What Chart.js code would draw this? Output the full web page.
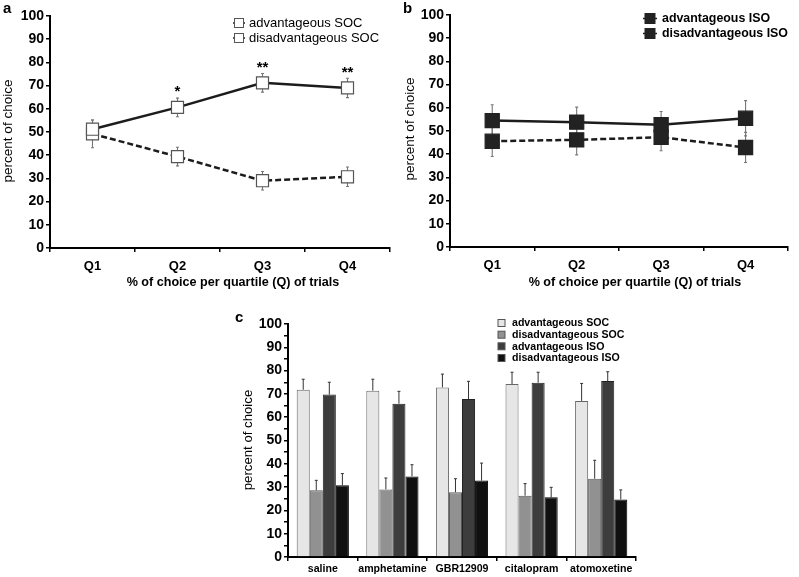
<!DOCTYPE html>
<html><head><meta charset="utf-8">
<script src="https://cdn.jsdelivr.net/npm/chart.js@4.4.1/dist/chart.umd.min.js"></script>
<style>
html,body{margin:0;padding:0;background:#fff;}
#wrap{position:relative;width:799px;height:577px;overflow:hidden;background:#fff;}
.box{position:absolute;}
canvas{display:block;}
</style></head><body>
<div id="wrap">
<div class="box" style="left:0;top:0;"><canvas id="ca" width="400" height="300"></canvas></div>
<div class="box" style="left:400px;top:0;"><canvas id="cb" width="399" height="300"></canvas></div>
<div class="box" style="left:200px;top:300px;"><canvas id="cc" width="440" height="277"></canvas></div>
</div>
<script>
// ---------- data ----------
const quartiles = ['Q1', 'Q2', 'Q3', 'Q4'];
const advSOC = [51.2, 60.6, 71.2, 69.0];
const advSOCErr = [4.0, 4.0, 4.0, 4.2];
const disSOC = [49.2, 39.4, 29.0, 30.7];
const disSOCErr = [6.0, 4.0, 4.0, 4.2];
const sigMarks = ['', '*', '**', '**'];

const advISO = [54.5, 53.8, 52.7, 55.5];
const advISOErr = [6.8, 6.5, 5.7, 7.6];
const disISO = [45.6, 46.2, 47.3, 42.9];
const disISOErr = [6.6, 6.5, 5.8, 6.5];

const drugs = ['saline', 'amphetamine', 'GBR12909', 'citalopram', 'atomoxetine'];
const cAdvSOC = [71.8, 71.4, 72.8, 74.2, 67.0];
const cAdvSOCErr = [4.5, 4.9, 5.7, 5.1, 7.5];
const cDisSOC = [28.6, 29.0, 27.8, 26.3, 33.6];
const cDisSOCErr = [4.3, 4.9, 5.8, 5.2, 7.9];
const cAdvISO = [69.7, 65.8, 67.8, 74.8, 75.5];
const cAdvISOErr = [5.3, 5.3, 7.6, 4.5, 4.0];
const cDisISO = [30.8, 34.6, 32.8, 25.6, 24.7];
const cDisISOErr = [5.0, 5.0, 7.5, 4.3, 4.1];

const yAxisTitle = 'percent of choice';
const xAxisTitle = '% of choice per quartile (Q) of trials';

// ---------- helpers ----------
const FAM = "'Liberation Sans', Arial, Helvetica, sans-serif";
Chart.defaults.font.family = FAM;
Chart.defaults.color = '#000';

const ANN = {
  ca: {
    texts: [
      {t: 'a', x: 3, y: 13, font: 'bold 15px ' + FAM},
      {t: yAxisTitle, x: 8, y: 131, font: '13.5px ' + FAM, rot: true},
      {t: xAxisTitle, x: 233, y: 283, font: 'bold 12.6px ' + FAM, align: 'center', base: 'middle'}
    ],
    legend: {kind: 'line', x: 239, half: 6, tx: 249, rows: [23, 38], font: '13px ' + FAM},
    stars: true
  },
  cb: {
    texts: [
      {t: 'b', x: 3, y: 13, font: 'bold 15px ' + FAM},
      {t: yAxisTitle, x: 10, y: 129, font: '13.5px ' + FAM, rot: true},
      {t: xAxisTitle, x: 235, y: 283, font: 'bold 12.6px ' + FAM, align: 'center', base: 'middle'}
    ],
    legend: {kind: 'line', x: 250, half: 7, tx: 262, rows: [18.5, 33.5], font: 'bold 12.4px ' + FAM}
  },
  cc: {
    texts: [
      {t: 'c', x: 35, y: 22, font: 'bold 15px ' + FAM},
      {t: yAxisTitle, x: 48, y: 140, font: '13.2px ' + FAM, rot: true}
    ],
    legend: {kind: 'box', x: 301.5, tx: 312, rows: [23, 34.7, 46.3, 58], font: 'bold 10.6px ' + FAM}
  }
};

const annot = {
  id: 'annot',
  beforeDatasetsDraw(chart) {
    const ctx = chart.ctx;
    const ys = chart.scales.y;
    chart.data.datasets.forEach((ds, di) => {
      if (!ds.errors) return;
      const meta = chart.getDatasetMeta(di);
      ctx.save();
      ctx.strokeStyle = ds.errColor || '#666';
      ctx.lineWidth = ds.errWidth || 1;
      meta.data.forEach((el, i) => {
        const v = ds.data[i], e = ds.errors[i];
        const x = el.x;
        const yTop = ys.getPixelForValue(v + e);
        const yBot = ds.errUpOnly ? ys.getPixelForValue(v) : ys.getPixelForValue(v - e);
        ctx.beginPath();
        ctx.moveTo(x, yTop); ctx.lineTo(x, yBot);
        ctx.moveTo(x - 1.5, yTop); ctx.lineTo(x + 1.5, yTop);
        if (!ds.errUpOnly) { ctx.moveTo(x - 1.5, yBot); ctx.lineTo(x + 1.5, yBot); }
        ctx.stroke();
      });
      ctx.restore();
    });
  },
  afterDraw(chart) {
    const cfg = ANN[chart.canvas.id];
    if (!cfg) return;
    const ctx = chart.ctx;
    ctx.save();
    ctx.fillStyle = '#000';
    cfg.texts.forEach(o => {
      ctx.save();
      ctx.font = o.font;
      if (o.rot) {
        ctx.translate(o.x, o.y);
        ctx.rotate(-Math.PI / 2);
        ctx.textAlign = 'center'; ctx.textBaseline = 'middle';
        ctx.fillText(o.t, 0, 0);
      } else {
        ctx.textAlign = o.align || 'left';
        ctx.textBaseline = o.base || 'alphabetic';
        ctx.fillText(o.t, o.x, o.y);
      }
      ctx.restore();
    });
    // legend
    const lg = cfg.legend;
    chart.data.datasets.forEach((ds, di) => {
      const y = lg.rows[di];
      ctx.save();
      if (lg.kind === 'line') {
        ctx.strokeStyle = ds.borderColor; ctx.lineWidth = 1.5;
        ctx.beginPath(); ctx.moveTo(lg.x - lg.half, y); ctx.lineTo(lg.x + lg.half, y); ctx.stroke();
        const s = ds.legendSize;
        ctx.fillStyle = ds.pointBackgroundColor; ctx.strokeStyle = ds.pointBorderColor; ctx.lineWidth = 1;
        ctx.fillRect(lg.x - s / 2, y - s / 2, s, s);
        ctx.strokeRect(lg.x - s / 2, y - s / 2, s, s);
      } else {
        ctx.fillStyle = ds.backgroundColor; ctx.strokeStyle = '#555'; ctx.lineWidth = 1;
        ctx.fillRect(lg.x - 3.5, y - 3.5, 7, 7);
        ctx.strokeRect(lg.x - 3.5, y - 3.5, 7, 7);
      }
      ctx.fillStyle = '#000';
      ctx.font = lg.font; ctx.textAlign = 'left'; ctx.textBaseline = 'middle';
      ctx.fillText(ds.label, lg.tx, y + 0.5);
      ctx.restore();
    });
    // significance stars
    if (cfg.stars) {
      const meta = chart.getDatasetMeta(0);
      const ys = chart.scales.y;
      ctx.font = 'bold 15px ' + FAM; ctx.textAlign = 'center'; ctx.textBaseline = 'alphabetic';
      sigMarks.forEach((m, i) => {
        if (!m) return;
        const yc = ys.getPixelForValue(advSOC[i] + advSOCErr[i] + 4.4);
        ctx.fillText(m, meta.data[i].x, yc + 0.57 * 15);
      });
    }
    ctx.restore();
  }
};

function yScale(width, step, labelEvery, fontSize) {
  return {
    min: 0, max: 100,
    ticks: {
      stepSize: step, autoSkip: false, padding: 2, color: '#000',
      font: {size: fontSize, weight: 'bold'},
      callback: v => (v % labelEvery === 0 ? String(v) : '')
    },
    grid: {drawOnChartArea: false, drawTicks: true, tickLength: 4, color: '#000', lineWidth: 1.5},
    border: {display: true, color: '#000', width: 2},
    afterFit: s => { s.width = width; }
  };
}
function xScale(height, fontSize, pad) {
  return {
    offset: true,
    ticks: {color: '#000', font: {size: fontSize, weight: 'bold'}, padding: pad, maxRotation: 0, autoSkip: false},
    grid: {offset: true, drawOnChartArea: false, drawTicks: true, tickLength: 4, color: '#000', lineWidth: 1.5},
    border: {display: true, color: '#000', width: 2},
    afterFit: s => { s.height = height; }
  };
}

function lineDs(label, data, errs, dashed, filled, r) {
  return {
    label, data, errors: errs,
    borderColor: '#1c1c1c', borderWidth: 2.5, borderDash: dashed ? [6, 3] : [],
    pointStyle: 'rect', pointRadius: r, pointHoverRadius: r,
    pointBackgroundColor: filled ? '#222' : '#fff',
    pointBorderColor: filled ? '#222' : '#555', pointBorderWidth: 1.2,
    legendSize: filled ? 10 : 9,
    errColor: '#777', errWidth: 1.1,
    fill: false, tension: 0
  };
}

const common = {
  responsive: false, animation: false, devicePixelRatio: 1,
  plugins: {legend: {display: false}, tooltip: {enabled: false}}
};

new Chart(document.getElementById('ca'), {
  type: 'line',
  data: {labels: quartiles, datasets: [
    lineDs('advantageous SOC', advSOC, advSOCErr, false, false, 8.5),
    lineDs('disadvantageous SOC', disSOC, disSOCErr, true, false, 8.5)
  ]},
  options: Object.assign({}, common, {
    layout: {padding: {top: 16, right: 10, bottom: 0, left: 0}},
    scales: {x: xScale(52, 13, 7), y: yScale(50, 10, 10, 14)}
  }),
  plugins: [annot]
});

new Chart(document.getElementById('cb'), {
  type: 'line',
  data: {labels: quartiles, datasets: [
    lineDs('advantageous ISO', advISO, advISOErr, false, true, 10),
    lineDs('disadvantageous ISO', disISO, disISOErr, true, true, 10)
  ]},
  options: Object.assign({}, common, {
    layout: {padding: {top: 15, right: 1, bottom: 0, left: 0}},
    scales: {x: xScale(53, 13, 7), y: yScale(50, 10, 10, 14)}
  }),
  plugins: [annot]
});

function barDs(label, data, errs, fill, border) {
  return {
    label, data, errors: errs, errUpOnly: true,
    backgroundColor: fill, borderColor: border, borderWidth: 1,
    errColor: '#333', errWidth: 1,
    categoryPercentage: 0.75, barPercentage: 1.0
  };
}

new Chart(document.getElementById('cc'), {
  type: 'bar',
  data: {labels: drugs, datasets: [
    barDs('advantageous SOC', cAdvSOC, cAdvSOCErr, '#e6e6e6', '#666'),
    barDs('disadvantageous SOC', cDisSOC, cDisSOCErr, '#919191', '#555'),
    barDs('advantageous ISO', cAdvISO, cAdvISOErr, '#3d3d3d', '#222'),
    barDs('disadvantageous ISO', cDisISO, cDisISOErr, '#101010', '#000')
  ]},
  options: Object.assign({}, common, {
    layout: {padding: {top: 24, right: 4, bottom: 0, left: 0}},
    scales: {x: xScale(20, 10.6, 2), y: yScale(88, 5, 10, 14)}
  }),
  plugins: [annot]
});
</script>
</body></html>
